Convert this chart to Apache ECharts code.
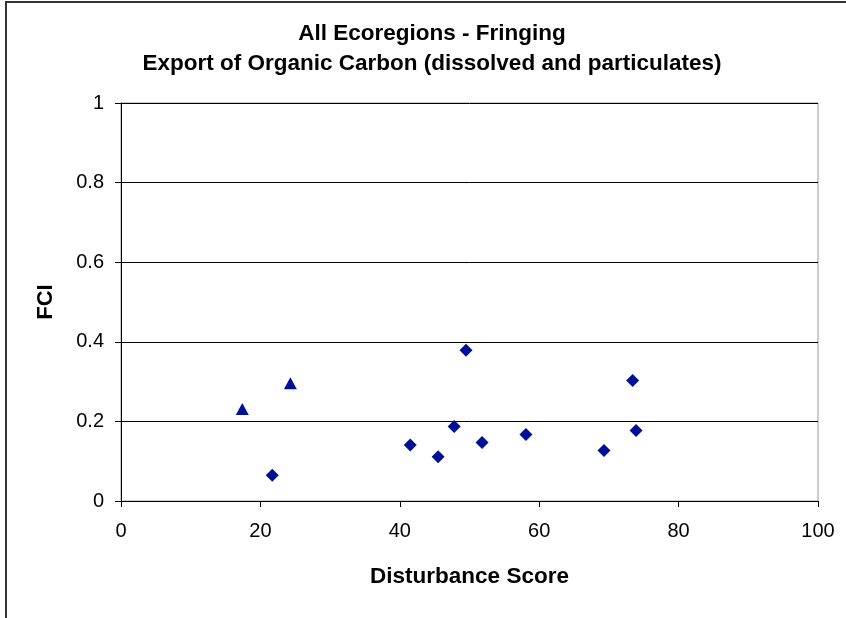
<!DOCTYPE html>
<html>
<head>
<meta charset="utf-8">
<script src="https://cdn.jsdelivr.net/npm/echarts@6/dist/echarts.min.js"></script>
<style>
html, body { margin: 0; padding: 0; background: #fff; }
#chart { width: 846px; height: 618px; }
</style>
</head>
<body>
<div id="chart"></div>
<script>
// disturbance score / FCI
const triScore = [17.4, 24.3];
const triFci = [0.231, 0.296];
const diaScore = [21.7, 41.5, 45.5, 47.8, 49.5, 51.8, 58.1, 69.3, 73.4, 73.9];
const diaFci = [0.065, 0.141, 0.111, 0.187, 0.379, 0.147, 0.167, 0.127, 0.303, 0.177];

const titleLines = ['All Ecoregions - Fringing', 'Export of Organic Carbon (dissolved and particulates)'];
const xTicks = [0, 20, 40, 60, 80, 100];
const yTicks = [0, 0.2, 0.4, 0.6, 0.8, 1];

const font = '"Liberation Sans", Arial, sans-serif';
const markColor = '#001196';

const pairs = (xs, ys) => xs.map((x, i) => [x, ys[i]]);

const chart = echarts.init(document.getElementById('chart'));
const option = {
  backgroundColor: '#fff',
  animation: false,
  graphic: [
    {
      type: 'rect',
      shape: { x: 6, y: 2, width: 900, height: 700 },
      style: { fill: 'none', stroke: '#333', lineWidth: 2 },
      silent: true
    }
  ],
  title: {
    text: titleLines.join('\n'),
    left: 432,
    top: 19,
    padding: 0,
    textAlign: 'center',
    textStyle: {
      fontFamily: font,
      fontSize: 22.5,
      fontWeight: 'bold',
      color: '#000',
      lineHeight: 30
    }
  },
  grid: {
    left: 121,
    right: 28,
    top: 103,
    bottom: 117,
    show: true,
    borderColor: '#999',
    borderWidth: 1
  },
  xAxis: {
    type: 'value',
    min: xTicks[0],
    max: xTicks[xTicks.length - 1],
    interval: 20,
    name: 'Disturbance Score',
    nameLocation: 'middle',
    nameGap: 64,
    nameTextStyle: { fontFamily: font, fontSize: 22.5, fontWeight: 'bold', color: '#000' },
    axisLine: { lineStyle: { color: '#000', width: 1 } },
    axisTick: { length: 6, lineStyle: { color: '#000' } },
    axisLabel: { fontFamily: font, fontSize: 20, color: '#000', margin: 20 },
    splitLine: { show: false }
  },
  yAxis: {
    type: 'value',
    min: yTicks[0],
    max: yTicks[yTicks.length - 1],
    interval: 0.2,
    name: 'FCI',
    nameLocation: 'middle',
    nameGap: 64,
    nameTextStyle: { fontFamily: font, fontSize: 22, fontWeight: 'bold', color: '#000' },
    axisLine: { lineStyle: { color: '#000', width: 1 } },
    axisTick: { length: 6, lineStyle: { color: '#000' } },
    axisLabel: { fontFamily: font, fontSize: 20, color: '#000', margin: 17 },
    splitLine: { show: true, lineStyle: { color: '#000', width: 1 } }
  },
  series: [
    {
      type: 'scatter',
      symbol: 'diamond',
      symbolSize: 13,
      itemStyle: { color: markColor, opacity: 1 },
      data: pairs(diaScore, diaFci)
    },
    {
      type: 'scatter',
      symbol: 'triangle',
      symbolSize: [13, 12],
      itemStyle: { color: markColor, opacity: 1 },
      data: pairs(triScore, triFci)
    }
  ]
};
chart.setOption(option);
</script>
</body>
</html>
